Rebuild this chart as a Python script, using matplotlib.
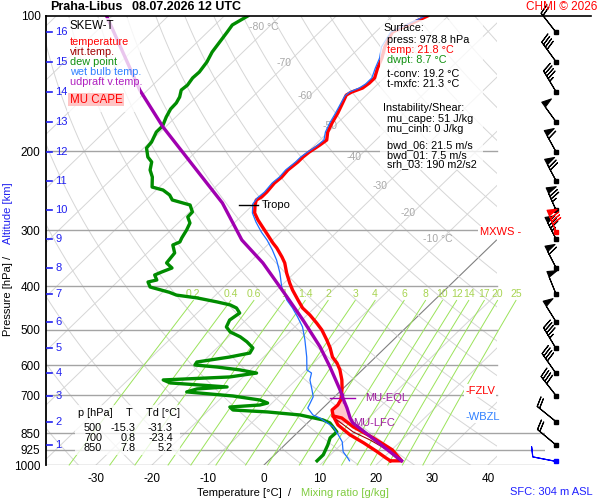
import numpy as np
import matplotlib
matplotlib.use("Agg")
import matplotlib.pyplot as plt
import matplotlib.transforms as mtransforms
from matplotlib.patches import Rectangle
from matplotlib.ticker import NullLocator

plt.rcParams['font.family'] = ['Liberation Sans', 'DejaVu Sans']

# ---------------- values ----------------
station = "Praha-Libus"
valid = "08.07.2026 12 UTC"

# temperature profile
temp_p = [100, 103.7, 108.6, 117.2, 124.0, 130.6, 137.4, 141.0, 144.7, 147.7,
          150.0, 156.2, 164.5, 173.1, 181.3, 188.9, 193.8, 201.0, 206.1, 211.4,
          220.3, 228.4, 235.5, 246.6, 253.0, 256.9, 263.6, 274.6, 284.7, 295.1,
          307.4, 320.3, 328.5, 344.1, 354.8, 373.6, 393.3, 407.7, 429.0, 447.0,
          463.3, 482.9, 500.3, 526.4, 548.6, 574.9, 592.7, 614.0, 646.5, 673.3,
          700.0, 716.7, 735.1, 754.2, 777.6, 814.1, 835.2, 856.8, 892.6, 934.6,
          963.7, 978.8]
temp_t = [-53.7, -55.1, -57.0, -55.6, -54.1, -53.0, -51.7, -51.7, -52.0, -53.2,
          -53.6, -52.8, -51.8, -51.0, -50.1, -48.8, -49.1, -49.7, -49.9, -49.9,
          -50.2, -50.0, -50.2, -49.9, -49.9, -50.3, -49.6, -48.2, -46.3, -44.2,
          -41.8, -39.4, -37.8, -35.2, -33.6, -31.4, -29.0, -27.2, -24.4, -22.1,
          -19.5, -16.8, -14.6, -11.9, -9.8, -7.7, -5.8, -4.0, -1.8, -0.3,
          1.0, 1.7, 2.1, 2.0, 3.3, 5.8, 7.8, 9.8, 13.7, 17.8,
          20.4, 21.8]

# outer red line of the boundary layer
bl_p = [777.6, 785.7, 822.4, 870.1, 925.1, 978.8, 978.8]
bl_t = [3.3, 5.2, 8.9, 14.5, 20.1, 23.8, 21.8]

# virtual temperature (visible near the ground)
tv_p = [793.6, 843.9, 879.4, 925.1, 978.8]
tv_t = [4.7, 9.8, 14.3, 19.2, 23.4]

# wet bulb temperature
wb_p = [100, 103.7, 108.6, 117.2, 124.0, 130.6, 137.4, 141.7, 144.7, 147.7,
        150.7, 157.0, 164.5, 173.1, 181.3, 188.9, 194.8, 201.0, 206.1, 211.4,
        220.3, 228.4, 235.5, 246.6, 254.3, 262.2, 274.6, 287.6, 302.7, 315.4,
        332.0, 349.5, 373.6, 401.4, 429.0, 447.0, 468.3, 492.7, 526.4, 574.9,
        614.0, 624.0, 646.5, 680.2, 705.0, 746.6, 773.7, 785.7, 822.4, 856.8,
        888.1, 934.6, 963.7, 978.8]
wb_t = [-54.1, -55.5, -57.3, -56.2, -54.5, -53.4, -52.2, -52.2, -52.6, -53.6,
        -53.7, -53.0, -52.2, -51.4, -50.5, -49.3, -49.5, -50.0, -50.3, -50.3,
        -50.6, -50.4, -50.6, -50.3, -50.5, -50.2, -48.6, -46.3, -43.5, -41.0,
        -38.2, -35.6, -32.6, -29.7, -26.4, -23.9, -21.3, -18.6, -15.8, -12.3,
        -9.9, -8.5, -7.5, -5.3, -3.8, -2.7, -0.5, 1.3, 5.3, 7.7,
        9.7, 11.7, 13.6, 14.5]

# dew point
dp_p = [100, 104.7, 108.6, 114.3, 120.3, 126.6, 133.3, 137.4, 142.5, 146.2,
        151.5, 156.2, 161.1, 167.9, 175.7, 181.3, 190.9, 196.8, 206.1, 211.4,
        220.3, 228.4, 240.4, 244.1, 250.4, 256.9, 263.6, 273.2, 280.3, 289.1,
        299.7, 312.2, 318.6, 323.6, 337.1, 354.8, 364.1, 371.7, 377.4, 387.2,
        391.2, 401.4, 412.4, 418.4, 424.5, 433.3, 440.0, 447.0, 458.7, 475.5,
        492.7, 505.4, 518.3, 531.6, 548.6, 563.2, 574.9, 589.7, 598.8, 605.0,
        614.0, 624.0, 636.7, 646.5, 656.5, 670.1, 677.0, 687.4, 701.9, 716.7,
        727.7, 735.1, 742.8, 754.2, 761.8, 773.7, 793.6, 805.9, 843.9, 870.1,
        902.5, 949.0, 978.8]
dp_t = [-85.8, -86.9, -86.5, -86.0, -85.5, -84.6, -84.1, -84.2, -83.8, -84.0,
        -83.0, -82.5, -82.4, -81.7, -80.7, -80.7, -79.7, -79.5, -77.6, -76.0,
        -74.8, -73.1, -71.3, -68.8, -66.7, -65.3, -61.2, -59.5, -59.4, -57.9,
        -57.2, -56.6, -56.2, -56.9, -55.1, -54.7, -52.8, -53.9, -54.6, -53.3,
        -54.5, -53.2, -48.8, -47.0, -42.8, -38.5, -35.6, -33.9, -32.4, -32.9,
        -32.2, -30.6, -27.9, -25.8, -23.6, -23.2, -26.1, -31.0, -30.8, -26.5,
        -21.9, -18.3, -22.4, -33.7, -31.9, -21.0, -26.0, -27.3, -18.3, -12.7,
        -10.8, -11.8, -16.8, -15.7, -9.2, -2.8, 2.2, 4.0, 6.9, 6.8,
        7.7, 8.7, 8.7]

# MU parcel (updraft virtual temperature)
parc_p = [100, 146.2, 176.8, 220.3, 260.9, 315.4, 354.8, 422.5, 475.5, 545.6,
          605.0, 680.2, 709.0, 746.6, 785.7, 805.9, 978.8]
parc_t = [-111.0, -91.4, -80.4, -66.5, -55.8, -45.5, -37.5, -26.9, -19.8, -11.8,
          -6.3, -0.3, 1.7, 4.3, 6.7, 8.1, 23.8]

# altitude scale and winds (one barb per km)
alt_km = list(range(1, 17))
alt_p = [902.5, 800.6, 700.4, 625.0, 550.0, 479.6, 416.0, 363.6,
         313.8, 270.4, 232.7, 200.6, 172.0, 147.4, 126.4, 108.7]
wind_dir = [310, 309, 322, 325, 329, 328, 338, 333,
            333, 336, 332, 331, 324, 329, 324, 322]
wind_spd = [20, 20, 40, 40, 45, 50, 50, 60,
            75, 75, 70, 60, 50, 45, 40, 20]
sfc_p, sfc_wdir, sfc_wspd = 978.8, 281, 10
mxws_p, mxws_dir, mxws_spd = 303.0, 337, 80

mix_ratios = [0.2, 0.4, 0.6, 1, 1.4, 2, 3, 4, 6, 8, 10, 12, 14, 17, 20, 25]
p_ticks = [100, 200, 300, 400, 500, 600, 700, 850, 925, 1000]
t_ticks = [-30, -20, -10, 0, 10, 20, 30, 40]
iso_lab_t = [-80, -70, -60, -50, -40, -30, -20, -10]
iso_lab_p = [106, 127, 151, 176, 206, 239, 275, 314]

tropo_p, tropo_t = 263.6, -49.6
eql_p, eql_t = 709.0, 1.7
lfc_p, lfc_t = 805.9, 8.1
fzlv_p, wbzl_p = 683.0, 781.0

tab_p = [500, 700, 850]
tab_t = [-15.3, 0.8, 7.8]
tab_td = [-31.3, -23.4, 5.2]

sfc_press, sfc_temp, sfc_dwpt = 978.8, 21.8, 8.7
t_conv, t_mxfc = 19.2, 21.3
mu_cape, mu_cinh = 51, 0
bwd_06, bwd_01, srh_03 = 21.5, 7.5, 190
sfc_height = 304

# ---------------- drawing ----------------
RED = '#ff0000'
GREEN = '#008c00'
BLUE_WB = '#2070ff'
PURPLE = '#a000b0'
ALT_BLUE = '#2020f0'
MIX_GREEN = '#9be35a'
K = 36.0   # skew of the isotherms


def sx(t, p):
    return np.asarray(t, float) + K * np.log(1000.0 / np.asarray(p, float))


def fx(px):
    return px / 600.0


def fy(py):
    return 1.0 - py / 500.0


fig = plt.figure(figsize=(6, 5), dpi=100)
ax = fig.add_axes([fx(46), fy(465), fx(545) - fx(46), fy(16) - fy(465)])
ax.set_yscale('log')
ax.set_ylim(1000, 100)
ax.set_xlim((46 - 264) / 5.6, (545 - 264) / 5.6)
ty = mtransforms.blended_transform_factory(ax.transAxes, ax.transData)
grid_right = (497 - 46) / 499.0
clip = Rectangle((0, 0), grid_right, 1, transform=ax.transAxes)

# isotherms
for t in range(-160, 60, 10):
    col, lw = ('#808080', 0.8) if t == 0 else ('#d6d6d6', 0.7)
    ln, = ax.plot(sx([t, t], [1000, 100]), [1000, 100], color=col, lw=lw, zorder=1.1)
    ln.set_clip_path(clip)
for t, p in zip(iso_lab_t, iso_lab_p):
    txt = f"{t} °C" if t in (-80, -10) else f"{t}"
    ax.annotate(txt, xy=(sx(t, p), p), xytext=(-3, 0), textcoords='offset points',
                ha='center', va='center', color='#a8a8a8', fontsize=7.5, zorder=1.3)

# dry adiabats
pp = np.geomspace(100, 1000, 60)
for th in range(230, 470, 10):
    t = th * (pp / 1000.0) ** 0.2857 - 273.15
    ln, = ax.plot(sx(t, pp), pp, color='#d6d6d6', lw=0.7, zorder=1.1)
    ln.set_clip_path(clip)

# isobars
for p in p_ticks[1:]:
    right = 1.0 if p >= 850 else grid_right
    ax.plot([0, right], [p, p], transform=ty, color='#a4a4a4', lw=1.0, zorder=1.2)
ax.plot([0, (591 - 46) / 499.0], [100, 100], transform=ty, color='k', lw=1.2,
        clip_on=False, zorder=6)

# mixing ratio lines
pm = np.geomspace(430, 1000, 40)
for w in mix_ratios:
    e = w * pm / (622.0 + w)
    lg = np.log(e / 6.112)
    td = 243.5 * lg / (17.67 - lg)
    ax.plot(sx(td, pm), pm, color=MIX_GREEN, lw=0.7, zorder=1.5, clip_on=False)
    ax.annotate(f"{w:g}", xy=(sx(td[0], pm[0]), pm[0]), xytext=(0, 1),
                textcoords='offset points', ha='center', va='bottom',
                color='#a8d452', fontsize=7.5, zorder=1.6, annotation_clip=False)

# CAPE area
pc = np.geomspace(eql_p, lfc_p, 30)
tc_env = np.interp(np.log(pc), np.log(temp_p), temp_t)
tc_par = np.interp(np.log(pc), np.log(parc_p), parc_t)
ax.fill_betweenx(pc, sx(tc_env, pc), sx(tc_par, pc), color='#ffc6cc', lw=0, zorder=3)

# profiles
ax.plot(sx(temp_t, temp_p), temp_p, color=RED, lw=2.4, zorder=4, solid_joinstyle='round')
ax.plot(sx(bl_t, bl_p), bl_p, color=RED, lw=2.4, zorder=4)
ax.plot(sx(tv_t, tv_p), tv_p, color='#a00000', lw=0.8, zorder=4.2)
ax.plot(sx(dp_t, dp_p), dp_p, color=GREEN, lw=2.4, zorder=4)
ax.plot(sx(wb_t, wb_p), wb_p, color=BLUE_WB, lw=0.9, zorder=4.3)
ax.plot(sx(parc_t, parc_p), parc_p, color=PURPLE, lw=2.4, zorder=4.5)

# tropopause, EQL, LFC
xt = sx(tropo_t, tropo_p)
ax.plot([xt - 16 / 5.6, xt + 3 / 5.6], [tropo_p, tropo_p], color='k', lw=1.0, zorder=5)
ax.annotate("Tropo", xy=(xt, tropo_p), xytext=(5, 0), textcoords='offset points',
            va='center', ha='left', fontsize=8, zorder=5)
xe = sx(eql_t, eql_p)
ax.plot([xe - 13 / 5.6, xe + 12 / 5.6], [eql_p, eql_p], color=PURPLE, lw=1.0, zorder=5)
ax.plot([xe], [eql_p], marker='|', ms=7, mew=1.0, color=PURPLE, zorder=5)
ax.annotate("MU-EQL", xy=(xe, eql_p), xytext=(16, 0), textcoords='offset points',
            va='center', ha='left', fontsize=8, color='#a020a0', zorder=5)
ax.annotate("MU-LFC", xy=(sx(lfc_t, lfc_p), lfc_p), xytext=(0, 0), textcoords='offset points',
            va='center', ha='left', fontsize=8, color='#a020a0', zorder=5)

# levels on the right
ax.text((465 - 46) / 499.0, fzlv_p, "-FZLV", transform=ty, color=RED, fontsize=8,
        va='center', ha='left', zorder=5,
        bbox=dict(fc='white', ec='none', pad=1.0))
ax.text((465 - 46) / 499.0, wbzl_p, "-WBZL", transform=ty, color='#3080ff', fontsize=8,
        va='center', ha='left', zorder=5,
        bbox=dict(fc='white', ec='none', pad=1.0))
ax.text((521 - 46) / 499.0, mxws_p, "MXWS -", transform=ty, color=RED, fontsize=8,
        va='center', ha='right', zorder=5,
        bbox=dict(fc='white', ec='none', pad=1.0))

# altitude scale
for km, p in zip(alt_km, alt_p):
    ax.plot([0, 0.013], [p, p], transform=ty, color=ALT_BLUE, lw=1.2, zorder=5)
    ax.text(0.019, p, str(km), transform=ty, ha='left', va='center',
            color=ALT_BLUE, fontsize=8, zorder=5)

# wind barbs
xb = (556 - 46) / 499.0
d = np.radians(wind_dir)
spd = np.array(wind_spd, float)
ax.barbs(np.full(len(alt_p), xb), alt_p, -spd * np.sin(d), -spd * np.cos(d),
         transform=ty, length=5.9, color='k', lw=0.8, clip_on=False, zorder=5)
ax.plot(np.full(len(alt_p), xb), alt_p, 's', ms=2.6, color='k', transform=ty,
        clip_on=False, zorder=5)
dm = np.radians(mxws_dir)
ax.barbs([xb], [mxws_p], [-mxws_spd * np.sin(dm)], [-mxws_spd * np.cos(dm)],
         transform=ty, length=5.9, color=RED, lw=0.8, clip_on=False, zorder=5.2)
ax.plot([xb], [mxws_p], 's', ms=2.6, color=RED, transform=ty, clip_on=False, zorder=5.2)
ds = np.radians(sfc_wdir)
ax.barbs([xb], [sfc_p], [-sfc_wspd * np.sin(ds)], [-sfc_wspd * np.cos(ds)],
         transform=ty, length=5.9, color='#0000ff', lw=0.8, clip_on=False, zorder=5)
ax.plot([xb], [sfc_p], 's', ms=2.6, color='#0000ff', transform=ty, clip_on=False, zorder=5)

# axes
ax.set_yticks(p_ticks)
ax.set_yticklabels([str(p) for p in p_ticks])
ax.yaxis.set_minor_locator(NullLocator())
ax.set_xticks(t_ticks)
ax.set_xticklabels([str(t) for t in t_ticks])
ax.tick_params(axis='y', length=0, pad=4, labelsize=8.5)
ax.tick_params(axis='x', length=0, pad=6, labelsize=8.5)
for s in ('top', 'right', 'bottom'):
    ax.spines[s].set_visible(False)
ax.spines['left'].set_linewidth(1.3)

# titles and axis labels
fig.text(fx(50), fy(7), station, fontsize=9, fontweight='bold', va='center', ha='left')
fig.text(fx(132), fy(7), valid, fontsize=9, fontweight='bold', va='center', ha='left')
fig.text(fx(597), fy(7), "CHMI © 2026", fontsize=8.5, color=RED, va='center', ha='right')
fig.text(fx(239), fy(493), "Temperature [°C]", fontsize=8, va='center', ha='center')
fig.text(fx(290), fy(493), "/", fontsize=8, va='center', ha='center')
fig.text(fx(345), fy(493), "Mixing ratio [g/kg]", fontsize=8, color='#80cc40',
         va='center', ha='center')
fig.text(fx(551), fy(492), f"SFC: {sfc_height} m ASL", fontsize=8, color='#2020ff',
         va='center', ha='center')
fig.text(fx(8), fy(299), "Pressure [hPa]", fontsize=8, rotation=90, va='center', ha='center')
fig.text(fx(8), fy(257), "/", fontsize=8, rotation=90, va='center', ha='center')
fig.text(fx(8), fy(213), "Altitude [km]", fontsize=8, rotation=90, color=ALT_BLUE,
         va='center', ha='center')


def box(x0, y0, x1, y1, fc='white', alpha=0.78):
    fig.add_artist(Rectangle((fx(x0), fy(y1)), fx(x1) - fx(x0), fy(y0) - fy(y1),
                             transform=fig.transFigure, fc=fc, ec='none',
                             alpha=alpha, zorder=7))


def ftext(x, y, s, **kw):
    kw.setdefault('fontsize', 7.8)
    kw.setdefault('va', 'center')
    kw.setdefault('ha', 'left')
    fig.text(fx(x), fy(y), s, zorder=8, **kw)


# legend
box(67, 18, 140, 112)
ftext(70, 26, "SKEW-T", fontsize=8.3)
legend_items = [("temperature", RED), ("virt.temp.", '#a00000'), ("dew point", '#109010'),
                ("wet bulb temp.", '#3080ff'), ("udpraft v.temp.", '#b020c0')]
for i, (name, col) in enumerate(legend_items):
    ftext(70, 42 + 10 * i, name, color=col)
box(68, 93, 124, 106, fc='#ffc4c4', alpha=1.0)
ftext(96, 100, "MU CAPE", color=RED, ha='center', fontsize=8.3)

# surface / instability box
box(380, 20, 483, 170)
info = [(383, 28, "Surface:", 'k'),
        (387, 40, f"press: {sfc_press} hPa", 'k'),
        (387, 50, f"temp: {sfc_temp} °C", RED),
        (387, 60, f"dwpt: {sfc_dwpt} °C", '#109010'),
        (387, 74, f"t-conv: {t_conv} °C", 'k'),
        (387, 84, f"t-mxfc: {t_mxfc} °C", 'k'),
        (383, 108, "Instability/Shear:", 'k'),
        (387, 119, f"mu_cape: {mu_cape} J/kg", 'k'),
        (387, 129, f"mu_cinh: {mu_cinh} J/kg", 'k'),
        (387, 145, f"bwd_06: {bwd_06} m/s", 'k'),
        (387, 155, f"bwd_01: {bwd_01} m/s", 'k'),
        (387, 164, f"srh_03: {srh_03} m2/s2", 'k')]
for x, y, s, c in info:
    ftext(x, y, s, color=c)

# standard level table
box(75, 405, 180, 455)
ftext(78, 413, "p [hPa]")
ftext(129, 413, "T", ha='center')
ftext(146, 413, "Td [°C]")
for i, (p, t, td) in enumerate(zip(tab_p, tab_t, tab_td)):
    y = 428 + 10 * i
    ftext(102, y, f"{p}", ha='right')
    ftext(136, y, f"{t:.1f}", ha='right')
    ftext(173, y, f"{td:.1f}", ha='right')

fig.savefig("out.png", dpi=100)
